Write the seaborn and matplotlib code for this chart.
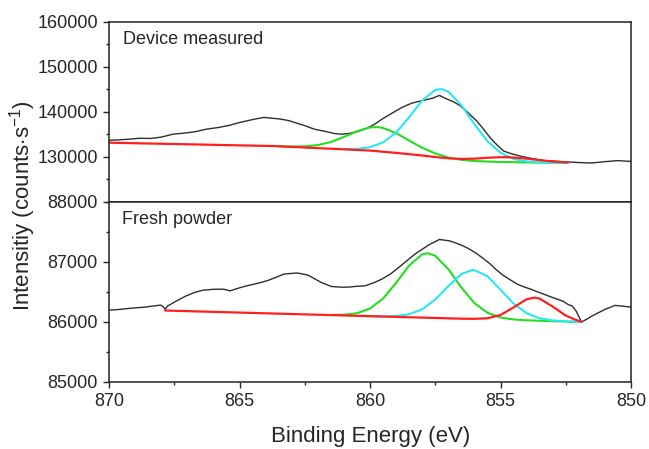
import seaborn as sns
import matplotlib.pyplot as plt
from matplotlib.ticker import MultipleLocator, FixedLocator

# ---- top panel: device measured ----
top_black_x = [870.0, 869.6, 869.2, 868.86, 868.4, 868.0, 867.56, 867.1, 866.7, 866.27,
               865.8, 865.4, 864.98, 864.5, 864.07, 863.75, 863.42, 863.1, 862.9, 862.5,
               862.13, 861.7, 861.35, 861.1, 860.84, 860.45, 860.06, 859.8, 859.54, 859.15,
               858.76, 858.4, 857.98, 857.6, 857.34, 857.08, 856.8, 856.56, 856.25, 855.92,
               855.65, 855.4, 855.15, 854.88, 854.55, 854.23, 853.8, 853.33, 852.9, 852.42,
               852.0, 851.51, 851.0, 850.48, 850.2, 850.0]
top_black_y = [133640, 133750, 133900, 134090, 134050, 134350, 134990, 135250, 135550, 136110,
               136500, 136950, 137620, 138250, 138730, 138550, 138350, 138000, 137620, 136900,
               136110, 135600, 135130, 135000, 135130, 135600, 136490, 137300, 138350, 139700,
               141000, 141900, 142490, 143000, 143620, 142870, 142200, 141380, 139800, 138000,
               136100, 134240, 132700, 131240, 130600, 130110, 129600, 129130, 129000, 128820,
               128700, 128600, 128900, 129130, 129000, 128980]

top_red_x = [869.96, 868.0, 866.0, 864.0, 863.68, 862.0, 860.0, 859.0, 858.0, 857.5, 857.0,
             856.5, 856.0, 855.5, 855.0, 854.75, 854.5, 854.0, 853.5, 853.0, 852.42]
top_red_y = [133110, 132876, 132637, 132397, 132359, 131904, 131362, 130844, 130264, 129924, 129647,
             129494, 129564, 129761, 129887, 129876, 129807, 129565, 129232, 128933, 128708]

top_green_x = [863.5, 863.0, 862.5, 862.0, 861.5, 861.0, 860.5, 860.0, 859.7, 859.5, 859.0,
               858.5, 858.0, 857.5, 857.0, 856.5, 856.0, 855.5, 855.0, 854.0, 853.0, 852.42]
top_green_y = [132329, 132250, 132287, 132576, 133267, 134383, 135645, 136506, 136580, 136381, 135243,
               133587, 131981, 130724, 129835, 129305, 129041, 128922, 128837, 128720, 128648, 128606]

top_cyan_x = [861.0, 860.5, 860.0, 859.5, 859.0, 858.5, 858.0, 857.5, 857.25, 857.0, 856.5,
              856.0, 855.5, 855.0, 854.5, 854.0, 853.5, 853.0, 852.42]
top_cyan_y = [131690, 131725, 132114, 133169, 135359, 138767, 142493, 144848, 145026, 144452, 141438,
              137229, 133431, 130871, 129508, 128947, 128741, 128658, 128606]

# ---- bottom panel: fresh powder ----
bot_black_x = [870.0, 869.7, 869.38, 869.0, 868.6, 868.3, 868.02, 867.9, 867.85, 867.76,
               867.4, 867.05, 866.7, 866.4, 866.0, 865.62, 865.36, 865.0, 864.72, 864.3,
               863.94, 863.6, 863.29, 862.78, 862.39, 862.1, 861.87, 861.48, 861.1, 860.83,
               860.5, 860.19, 859.85, 859.54, 859.2, 858.89, 858.55, 858.26, 857.73, 857.34,
               856.95, 856.7, 856.43, 856.15, 855.91, 855.65, 855.4, 855.15, 854.88, 854.6,
               854.36, 854.1, 853.84, 853.6, 853.33, 853.05, 852.81, 852.6, 852.42, 852.25,
               852.1, 851.9, 851.7, 851.51, 851.25, 851.0, 850.61, 850.35, 850.0]
bot_black_y = [86193, 86200, 86215, 86230, 86243, 86262, 86277, 86240, 86204, 86260,
               86350, 86429, 86490, 86525, 86540, 86542, 86514, 86565, 86598, 86640,
               86683, 86740, 86795, 86812, 86778, 86710, 86654, 86587, 86575, 86576,
               86590, 86598, 86650, 86711, 86800, 86908, 87030, 87133, 87285, 87370,
               87347, 87310, 87263, 87200, 87133, 87050, 86964, 86860, 86767, 86690,
               86626, 86580, 86542, 86500, 86457, 86410, 86373, 86340, 86289, 86260,
               86176, 85996, 86040, 86091, 86150, 86204, 86272, 86260, 86243]

bot_red_x = [867.85, 866.0, 864.0, 862.0, 860.0, 858.0, 857.0, 856.5, 856.0, 855.5, 855.0,
             854.5, 854.0, 853.7, 853.5, 853.0, 852.5, 852.2, 851.9]
bot_red_y = [86186, 86164, 86140, 86116, 86092, 86068, 86056, 86050, 86048, 86057, 86112,
             86238, 86374, 86401, 86385, 86251, 86102, 86046, 85996]

bot_green_x = [861.5, 861.0, 860.5, 860.0, 859.5, 859.0, 858.5, 858.0, 857.79, 857.5, 857.0,
               856.5, 856.0, 855.5, 855.0, 854.5, 854.0, 853.0, 851.9]
bot_green_y = [86113, 86116, 86141, 86220, 86386, 86647, 86937, 87123, 87141, 87098, 86875,
               86570, 86310, 86148, 86069, 86037, 86023, 86009, 85996]

bot_cyan_x = [860.0, 859.5, 859.0, 858.5, 858.0, 857.5, 857.0, 856.5, 856.04, 855.5, 855.0,
              854.5, 854.0, 853.5, 853.0, 852.5, 851.9]
bot_cyan_y = [86093, 86089, 86094, 86124, 86207, 86369, 86593, 86795, 86867, 86757, 86532,
              86302, 86141, 86057, 86021, 86005, 85996]

BLACK = '#2e2e2e'
RED = '#ff1f1f'
GREEN = '#22dd22'
CYAN = '#2ae6f2'

sns.set_style("ticks")
plt.rcParams['font.family'] = ['Liberation Sans', 'DejaVu Sans']
plt.rcParams['mathtext.fontset'] = 'custom'
plt.rcParams['mathtext.rm'] = 'Liberation Sans'
plt.rcParams['mathtext.it'] = 'Liberation Sans:italic'

fig = plt.figure(figsize=(6.49, 4.49), dpi=100)
ax_top = fig.add_axes([0.168, 0.5508, 0.8043, 0.4009])
ax_bot = fig.add_axes([0.168, 0.1499, 0.8043, 0.4009])


def curve(ax, x, y, color, lw):
    sns.lineplot(x=x, y=y, ax=ax, color=color, linewidth=lw, estimator=None, sort=False)


curve(ax_top, top_black_x, top_black_y, BLACK, 1.0)
curve(ax_top, top_green_x, top_green_y, GREEN, 1.5)
curve(ax_top, top_cyan_x, top_cyan_y, CYAN, 1.5)
curve(ax_top, top_red_x, top_red_y, RED, 1.6)

curve(ax_bot, bot_black_x, bot_black_y, BLACK, 1.0)
curve(ax_bot, bot_green_x, bot_green_y, GREEN, 1.5)
curve(ax_bot, bot_cyan_x, bot_cyan_y, CYAN, 1.5)
curve(ax_bot, bot_red_x, bot_red_y, RED, 1.6)

for ax in (ax_top, ax_bot):
    ax.set_xlim(870, 850)
    for s in ax.spines.values():
        s.set_visible(True)
        s.set_linewidth(1.1)
        s.set_color('#222222')
    ax.tick_params(axis='both', which='major', direction='out', length=4.5, width=1,
                   labelsize=13, right=False, top=False)
    ax.tick_params(axis='both', which='minor', direction='out', length=2.5, width=1,
                   right=False, top=False)
    ax.set_xlabel('')
    ax.set_ylabel('')

ax_top.set_ylim(120000, 160000)
ax_top.yaxis.set_major_locator(FixedLocator([130000, 140000, 150000, 160000]))
ax_top.yaxis.set_minor_locator(FixedLocator([120000, 125000, 135000, 145000, 155000]))
ax_top.set_yticklabels(['130000', '140000', '150000', '160000'])
ax_top.tick_params(axis='x', which='both', bottom=False, labelbottom=False)

ax_bot.set_ylim(85000, 88000)
ax_bot.yaxis.set_major_locator(FixedLocator([85000, 86000, 87000, 88000]))
ax_bot.yaxis.set_minor_locator(MultipleLocator(500))
ax_bot.set_yticklabels(['85000', '86000', '87000', '88000'])
ax_bot.xaxis.set_major_locator(MultipleLocator(5))
ax_bot.xaxis.set_minor_locator(MultipleLocator(2.5))
ax_bot.set_xticklabels([f'{v:.0f}' for v in ax_bot.get_xticks()])
ax_bot.set_xlim(870, 850)

ax_top.text(0.027, 0.90, 'Device measured', transform=ax_top.transAxes,
            fontsize=13, va='center', ha='left')
ax_bot.text(0.025, 0.90, 'Fresh powder', transform=ax_bot.transAxes,
            fontsize=13, va='center', ha='left')

fig.text(0.571, 0.027, 'Binding Energy (eV)', fontsize=16, ha='center', va='center')
fig.text(0.034, 0.541, r'Intensitiy (counts$\cdot$s$^{-1}$)', fontsize=16,
         ha='center', va='center', rotation=90)

fig.savefig('out.png', dpi=100)
